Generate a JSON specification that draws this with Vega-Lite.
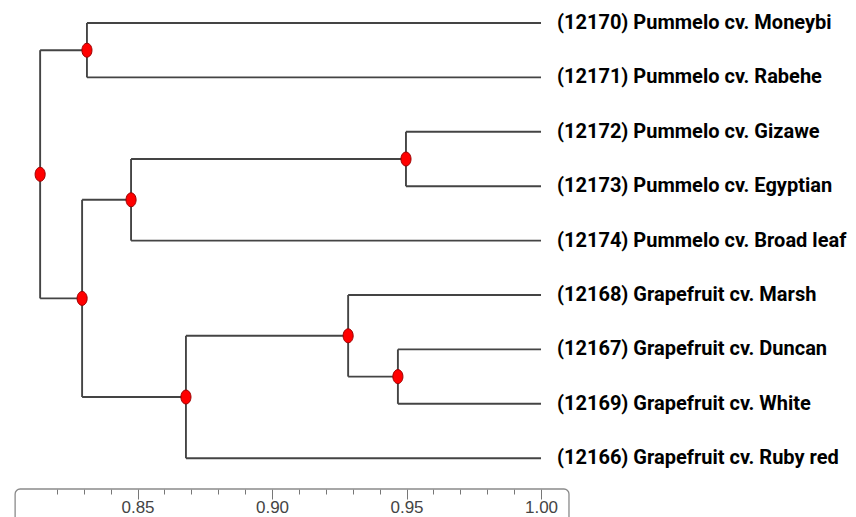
{
  "$schema": "https://vega.github.io/schema/vega-lite/v6.json",
  "width": 856,
  "height": 489,
  "autosize": {"type": "none"},
  "padding": {"left": 0, "top": 0, "right": 0, "bottom": 28},
  "background": "white",
  "config": {"view": {"stroke": null}},
  "datasets": {
    "segments": [
      {"x": 0.8312, "x2": 0.8312, "y": 0, "y2": 1},
      {"x": 0.8312, "x2": 1.0, "y": 0, "y2": 0},
      {"x": 0.8312, "x2": 1.0, "y": 1, "y2": 1},
      {"x": 0.9498, "x2": 0.9498, "y": 2, "y2": 3},
      {"x": 0.9498, "x2": 1.0, "y": 2, "y2": 2},
      {"x": 0.9498, "x2": 1.0, "y": 3, "y2": 3},
      {"x": 0.8476, "x2": 0.8476, "y": 2.5, "y2": 4},
      {"x": 0.8476, "x2": 0.9498, "y": 2.5, "y2": 2.5},
      {"x": 0.8476, "x2": 1.0, "y": 4, "y2": 4},
      {"x": 0.9468, "x2": 0.9468, "y": 6, "y2": 7},
      {"x": 0.9468, "x2": 1.0, "y": 6, "y2": 6},
      {"x": 0.9468, "x2": 1.0, "y": 7, "y2": 7},
      {"x": 0.9283, "x2": 0.9283, "y": 5, "y2": 6.5},
      {"x": 0.9283, "x2": 1.0, "y": 5, "y2": 5},
      {"x": 0.9283, "x2": 0.9468, "y": 6.5, "y2": 6.5},
      {"x": 0.868, "x2": 0.868, "y": 5.75, "y2": 8},
      {"x": 0.868, "x2": 0.9283, "y": 5.75, "y2": 5.75},
      {"x": 0.868, "x2": 1.0, "y": 8, "y2": 8},
      {"x": 0.8294, "x2": 0.8294, "y": 3.25, "y2": 6.875},
      {"x": 0.8294, "x2": 0.8476, "y": 3.25, "y2": 3.25},
      {"x": 0.8294, "x2": 0.868, "y": 6.875, "y2": 6.875},
      {"x": 0.8138, "x2": 0.8138, "y": 0.5, "y2": 5.0625},
      {"x": 0.8138, "x2": 0.8312, "y": 0.5, "y2": 0.5},
      {"x": 0.8138, "x2": 0.8294, "y": 5.0625, "y2": 5.0625}
    ],
    "nodes": [
      {"x": 0.8312, "y": 0.5},
      {"x": 0.9498, "y": 2.5},
      {"x": 0.8476, "y": 3.25},
      {"x": 0.9468, "y": 6.5},
      {"x": 0.9283, "y": 5.75},
      {"x": 0.868, "y": 6.875},
      {"x": 0.8294, "y": 5.0625},
      {"x": 0.8138, "y": 2.78125}
    ],
    "leaves": [
      {"x": 1.0, "y": 0, "label": "(12170) Pummelo cv. Moneybi"},
      {"x": 1.0, "y": 1, "label": "(12171) Pummelo cv. Rabehe"},
      {"x": 1.0, "y": 2, "label": "(12172) Pummelo cv. Gizawe"},
      {"x": 1.0, "y": 3, "label": "(12173) Pummelo cv. Egyptian"},
      {"x": 1.0, "y": 4, "label": "(12174) Pummelo cv. Broad leaf"},
      {"x": 1.0, "y": 5, "label": "(12168) Grapefruit cv. Marsh"},
      {"x": 1.0, "y": 6, "label": "(12167) Grapefruit cv. Duncan"},
      {"x": 1.0, "y": 7, "label": "(12169) Grapefruit cv. White"},
      {"x": 1.0, "y": 8, "label": "(12166) Grapefruit cv. Ruby red"}
    ],
    "frame": [
      {"x": 0.8045, "x2": 1.0104, "y": 8.566, "y2": 9.6}
    ]
  },
  "layer": [
    {
      "data": {"name": "frame"},
      "mark": {"type": "rect", "fillOpacity": 0, "stroke": "#8a8a8a", "strokeWidth": 1.3, "cornerRadius": 5},
      "encoding": {
        "x": {"field": "x", "type": "quantitative", "scale": {"domain": [0.79888, 1.1171], "nice": false, "zero": false},
          "axis": {
            "values": [0.82, 0.83, 0.84, 0.85, 0.86, 0.87, 0.88, 0.89, 0.9, 0.91, 0.92, 0.93, 0.94, 0.95, 0.96, 0.97, 0.98, 0.99, 1.0],
            "domain": false, "grid": false, "title": null,
            "tickColor": "#777", "tickWidth": 1,
            "tickSize": {"condition": {"test": "round(datum.value*100) % 5 === 0", "value": 10}, "value": 5},
            "labelExpr": "round(datum.value*100) % 5 === 0 ? format(datum.value, '.2f') : ''",
            "labelOverlap": false, "labelFlush": false,
            "labelFont": "Liberation Sans", "labelFontSize": 17, "labelColor": "#444", "labelPadding": 0
          }},
        "x2": {"field": "x2"},
        "y": {"field": "y", "type": "quantitative", "scale": {"domain": [-0.4228, 8.566], "reverse": true, "nice": false, "zero": false}, "axis": null},
        "y2": {"field": "y2"}
      }
    },
    {
      "data": {"name": "segments"},
      "mark": {"type": "rule", "stroke": "#444444", "strokeWidth": 1.9},
      "encoding": {
        "x": {"field": "x", "type": "quantitative"},
        "x2": {"field": "x2"},
        "y": {"field": "y", "type": "quantitative"},
        "y2": {"field": "y2"}
      }
    },
    {
      "data": {"name": "nodes"},
      "mark": {"type": "point", "shape": "M -0.72 0 A 0.72 1 0 1 1 0.72 0 A 0.72 1 0 1 1 -0.72 0 Z", "size": 196, "filled": true, "fill": "#ff0000", "stroke": "#9a0000", "strokeWidth": 1, "opacity": 1},
      "encoding": {
        "x": {"field": "x", "type": "quantitative"},
        "y": {"field": "y", "type": "quantitative"}
      }
    },
    {
      "data": {"name": "leaves"},
      "mark": {"type": "text", "align": "left", "baseline": "middle", "dx": 16, "font": "Roboto", "fontWeight": "bold", "fontSize": 20, "color": "black"},
      "encoding": {
        "x": {"field": "x", "type": "quantitative"},
        "y": {"field": "y", "type": "quantitative"},
        "text": {"field": "label"}
      }
    }
  ]
}
